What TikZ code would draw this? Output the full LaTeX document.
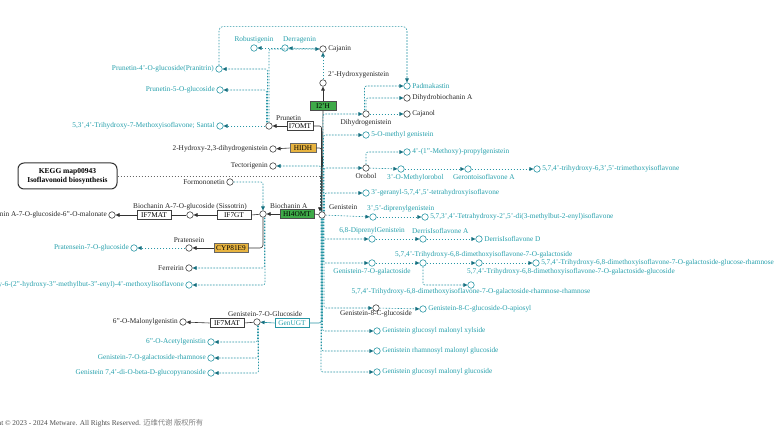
\documentclass[tikz,border=0pt]{standalone}
\usepackage{fontspec}
\setmainfont{Liberation Serif}
\newfontfamily\cjkfont{Noto Sans CJK SC}
\usetikzlibrary{arrows.meta}
\definecolor{tealtxt}{RGB}{38,160,172}
\definecolor{tealline}{RGB}{40,150,165}
\definecolor{tealtip}{RGB}{22,112,128}
\definecolor{enzgreen}{RGB}{62,170,72}
\definecolor{enzorange}{RGB}{232,180,64}

\begin{document}
\begin{tikzpicture}[x=1pt, y=-1pt,
        % Compounds: small open circles
        cmp/.style = {circle, draw=black!75, fill=white, line width=0.6pt,
                      minimum size=6.5pt, inner sep=0pt},
        tcmp/.style = {cmp, draw=tealline},
        % Compound names
        lbl/.style = {font=\fontsize{7.3}{8}\selectfont, text=black!85, inner sep=1.5pt},
        tlbl/.style = {lbl, text=tealtxt},
        % Enzymes: boxes, some coloured
        enz/.style = {rectangle, draw=black!75, fill=white, line width=0.6pt,
                      minimum width=34pt, minimum height=9pt, inner sep=1pt,
                      font=\fontsize{7.3}{8}\selectfont},
        enzs/.style = {enz, minimum width=26pt},
        genz/.style = {fill=enzgreen, draw=black!70},
        oenz/.style = {fill=enzorange, draw=black!60},
        tenz/.style = {draw=tealline, text=tealtxt},
        % Connectors
        rxn/.style = {draw=black!80, line width=0.6pt, -{Triangle[length=4pt, width=3.6pt]}},
        rxnl/.style = {draw=black!80, line width=0.6pt},
        trxn/.style = {draw=tealline, line width=0.6pt, -{Triangle[length=4pt, width=3.6pt, color=tealtip]}},
        tdash/.style = {draw=tealline, line width=0.6pt, dash pattern=on 1.6pt off 1.4pt,
                        rounded corners=2pt, -{Triangle[length=4pt, width=3.6pt, color=tealtip]}},
        mapdash/.style = {draw=black!60, line width=0.6pt, dash pattern=on 1.6pt off 1.4pt,
                          -{Triangle[length=4pt, width=3.6pt, color=black!85]}}
    ]

    \path[fill=white] (0,0) rectangle (782,446);
    \useasboundingbox (0,0) rectangle (782,446);

    % --- Top: 2'-hydroxylation and Prunetin branch ---
    \node[tcmp, label={[tlbl]above:Robustigenin}] (robu) at (254,48) {};
    \node[tcmp, label={[tlbl, anchor=south west, xshift=-3.5pt]north:Derragenin}] (derr) at (285,48) {};
    \node[cmp, label={[lbl]right:Cajanin}] (cajanin) at (323,49) {};
    \node[cmp, label={[lbl, anchor=south west, xshift=3.5pt]north:2'-Hydroxygenistein}] (oh2) at (323,83) {};
    \node[enzs, genz] (i2h) at (323,106) {I2'H};

    \node[tcmp, label={[tlbl]left:{Prunetin-4'-O-glucoside(Pranitrin)}}] (pran) at (219,69) {};
    \node[tcmp, label={[tlbl]left:Prunetin-5-O-glucoside}] (p5g) at (220,90) {};
    \node[tcmp, label={[tlbl]left:{5,3',4'-Trihydroxy-7-Methoxyisoflavone; Santal}}] (santal) at (220,126) {};
    \node[cmp, label={[lbl, anchor=south west, xshift=5.5pt]north:Prunetin}] (prun) at (269,126) {};
    \node[enzs] (i7omt) at (300,126) {I7OMT};

    \node[cmp, label={[lbl]left:{2-Hydroxy-2,3-dihydrogenistein}}] (hydgen) at (273,149) {};
    \node[enzs, oenz] (hidh) at (303,148) {HIDH};
    \node[cmp, label={[lbl]left:Tectorigenin}] (tect) at (273,166) {};

    % --- Map link ---
    \node[draw=black!80, line width=1pt, rounded corners=6pt, minimum width=99pt,
          minimum height=26pt, align=center, font=\bfseries\fontsize{7.5}{9}\selectfont]
          (kegg) at (67.5,176) {KEGG map00943\\Isoflavonoid biosynthesis};

    % --- Biochanin A branch ---
    \node[cmp, label={[lbl]left:Formononetin}] (form) at (230,182) {};
    \node[cmp, label={[lbl]left:{Biochanin A-7-O-glucoside-6''-O-malonate}}] (malon) at (112,215) {};
    \node[enz] (if7mat) at (154,215) {IF7MAT};
    \node[cmp, label={[lbl]above:Biochanin A-7-O-glucoside (Sissotrin)}] (sisso) at (190,215) {};
    \node[enz] (if7gt) at (234,215) {IF7GT};
    \node[cmp, label={[lbl, anchor=south west, xshift=5.5pt]north:Biochanin A}] (bioA) at (263,214) {};
    \node[enz, genz] (hi4omt) at (297,214) {HI4OMT};
    \node[cmp, label={[lbl, anchor=south west, xshift=5.5pt]north:Genistein}] (gen) at (322,215) {};

    \node[tcmp, label={[tlbl]left:Pratensein-7-O-glucoside}] (prat7g) at (134,248) {};
    \node[cmp, label={[lbl]above:Pratensein}] (prat) at (189,248) {};
    \node[enz, oenz] (cyp) at (231,248) {CYP81E9};
    \node[cmp, label={[lbl]left:Ferreirin}] (ferr) at (189,268) {};
    \node[tcmp, label={[tlbl]left:{5,7-dihydroxy-6-(2''-hydroxy-3''-methylbut-3''-enyl)-4'-methoxylisoflavone}}] (methox) at (189,285) {};

    % --- Genistein-7-O-Glucoside branch ---
    \node[cmp, label={[lbl]left:6''-O-Malonylgenistin}] (malgen) at (183,322) {};
    \node[enz] (if7mat2) at (227,323) {IF7MAT};
    \node[cmp, label={[lbl, anchor=south west, xshift=-30.5pt]north:Genistein-7-O-Glucoside}] (g7glc) at (257,322) {};
    \node[enz, tenz] (genugt) at (292,323) {GenUGT};
    \node[tcmp, label={[tlbl]left:6''-O-Acetylgenistin}] (acetyl) at (211,342) {};
    \node[tcmp, label={[tlbl]left:Genistein-7-O-galactoside-rhamnose}] (g7galr) at (211,358) {};
    \node[tcmp, label={[tlbl]left:{Genistein 7,4'-di-O-beta-D-glucopyranoside}}] (glcpyr) at (211,373) {};

    % --- Right: Dihydrogenistein and Orobol ---
    \node[tcmp, label={[tlbl]right:Padmakastin}] (padm) at (407,86) {};
    \node[cmp, label={[lbl]right:Dihydrobiochanin A}] (dhba) at (407,98) {};
    \node[cmp, label={[lbl]right:Cajanol}] (cajanol) at (407,114) {};
    \node[cmp, label={[lbl]below:Dihydrogenistein}] (dhg) at (366,114) {};
    \node[tcmp, label={[tlbl]right:5-O-methyl genistein}] (omg) at (366,135) {};
    \node[tcmp, label={[tlbl]right:4'-(1''-Methoxy)-propylgenistein}] (mprop) at (407,152) {};
    \node[cmp, label={[lbl]below:Orobol}] (orobol) at (366,168) {};
    \node[tcmp, label={[tlbl, anchor=north west, xshift=-15.5pt]south:3'-O-Methylorobol}] (mor) at (401,169) {};
    \node[tcmp, label={[tlbl, anchor=north west, xshift=-16.5pt]south:Gerontoisoflavone A}] (geron) at (468,169) {};
    \node[tcmp, label={[tlbl]right:{5,7,4'-trihydroxy-6,3',5'-trimethoxyisoflavone}}] (trim) at (537,169) {};
    \node[tcmp, label={[tlbl]right:{3'-geranyl-5,7,4',5'-tetrahydroxyisoflavone}}] (geranyl) at (366,193) {};

    % --- Right: Genistein derivatives ---
    \node[tcmp, label={[tlbl, anchor=south west, xshift=-7.5pt]north:{3',5'-diprenylgenistein}}] (dipr) at (373,217) {};
    \node[tcmp, label={[tlbl]right:{5,7,3',4'-Tetrahydroxy-2',5'-di(3-methylbut-2-enyl)isoflavone}}] (tetra) at (425,217) {};
    \node[tcmp, label={[tlbl]above:{6,8-DiprenylGenistein}}] (dipg) at (372,239) {};
    \node[tcmp, label={[tlbl, anchor=south west, xshift=-12.5pt]north:DerrisIsoflavone A}] (derA) at (423,239) {};
    \node[tcmp, label={[tlbl]right:DerrisIsoflavone D}] (derD) at (479,239) {};
    \node[tcmp, label={[tlbl]below:Genistein-7-O-galactoside}] (g7gal) at (372,263) {};
    \node[tcmp, label={[tlbl, anchor=south west, xshift=-29.5pt]north:{5,7,4'-Trihydroxy-6,8-dimethoxyisoflavone-7-O-galactoside}}] (tdg) at (423,263) {};
    \node[tcmp, label={[tlbl, anchor=north west, xshift=-13.5pt]south:{5,7,4'-Trihydroxy-6,8-dimethoxyisoflavone-7-O-galactoside-glucoside}}] (tdgg) at (479,263) {};
    \node[tcmp, label={[tlbl]right:{5,7,4'-Trihydroxy-6,8-dimethoxyisoflavone-7-O-galactoside-glucose-rhamnose}}] (tdggr) at (536,263) {};
    \node[tcmp, label={[tlbl, label distance=-2pt]below:{5,7,4'-Trihydroxy-6,8-dimethoxyisoflavone-7-O-galactoside-rhamnose-rhamnose}}] (tdgrr) at (471,285) {};
    \node[cmp, label={[lbl, label distance=-3pt]below:Genistein-8-C-glucoside}] (g8c) at (376,308) {};
    \node[tcmp, label={[tlbl]right:Genistein-8-C-glucoside-O-apiosyl}] (apio) at (423,309) {};
    \node[tcmp, label={[tlbl]right:Genistein glucosyl malonyl xylside}] (xyl) at (377,331) {};
    \node[tcmp, label={[tlbl]right:Genistein rhamnosyl malonyl glucoside}] (rham) at (377,351) {};
    \node[tcmp, label={[tlbl]right:Genistein glucosyl malonyl glucoside}] (glcglc) at (377,372) {};

    % --- Footer ---
    \node[lbl, text=black!70, anchor=base east] (copy) at (205,425)
          {Copyright \textcopyright{} 2023 - 2024 Metware. All Rights Reserved. {\cjkfont\color{black!50} 迈维代谢 版权所有}};

    % --- Enzyme reactions (solid) ---
    \draw[rxnl] (gen.north) -- (i2h.south);
    \draw[rxn] (i2h.north) -- (oh2.south);
    \draw[rxnl, rounded corners=2pt] ([xshift=-0.5pt]gen.north) |- (i7omt.east);
    \draw[rxn] (i7omt.west) -- (prun);
    \draw[rxnl, rounded corners=2pt] ([xshift=-0.5pt]gen.north) |- (hidh.east);
    \draw[rxn] (hidh.west) -- (hydgen);
    \draw[rxnl] (gen) -- (hi4omt.east);
    \draw[rxn] (hi4omt.west) -- (bioA);
    \draw[rxnl] (bioA) -- (if7gt.east);
    \draw[rxn] (if7gt.west) -- (sisso);
    \draw[rxnl] (sisso) -- (if7mat.east);
    \draw[rxn] (if7mat.west) -- (malon);
    \draw[rxnl, rounded corners=3pt] (bioA.south) |- (cyp.east);
    \draw[rxn] (cyp.west) -- (prat);
    \draw[rxnl, draw=tealline, rounded corners=3pt] (gen.south) |- (genugt.east);
    \draw[trxn] (genugt.west) -- (g7glc);
    \draw[rxnl] (g7glc) -- (if7mat2.east);
    \draw[rxn] (if7mat2.west) -- (malgen);

    % --- Map link ---
    \draw[mapdash] (kegg.east) -| ([xshift=-2pt]gen.north);

    % --- Top branch (dashed) ---
    \draw[tdash] (oh2) -- (cajanin);
    \draw[tdash] (cajanin) -- (derr);
    \draw[tdash] (derr) -- (robu);
    \draw[tdash] (prun) -- (santal);
    \draw[tdash] ([xshift=-2.5pt]prun.north) |- (p5g);
    \draw[tdash] ([xshift=-1.5pt]prun.north) |- (pran);
    \draw[tdash] (prun.north) |- (cajanin);
    \draw[tdash, rounded corners=4pt] (pran.north) -- ++(0,-39) -| (padm.north);

    % --- Up the Genistein bundle ---
    \draw[tdash] ([xshift=-1pt]gen.north) |- (tect);
    \draw[tdash] ([xshift=1pt]gen.north) |- (dhg);
    \draw[tdash] ([xshift=1.5pt]gen.north) |- (omg);
    \draw[tdash] ([xshift=2pt]gen.north) |- (orobol);
    \draw[tdash] ([xshift=2.5pt]gen.north) |- (geranyl);
    \draw[tdash] (dhg) -- (cajanol);
    \draw[tdash] ([xshift=-1.5pt]dhg.north) |- (padm);
    \draw[tdash] (dhg.north) |- (dhba);
    \draw[tdash] (orobol.north) |- (mprop);
    \draw[tdash] (orobol) -- (mor);
    \draw[tdash] (mor) -- (geron);
    \draw[tdash] (geron) -- (trim);

    % --- Down the Genistein bundle ---
    \draw[tdash] (gen) -- (dipr);
    \draw[tdash] (dipr) -- (tetra);
    \draw[tdash] ([xshift=1pt]gen.south) |- (dipg);
    \draw[tdash] (dipg) -- (derA);
    \draw[tdash] (derA) -- (derD);
    \draw[tdash] ([xshift=1.5pt]gen.south) |- (g7gal);
    \draw[tdash] (g7gal) -- (tdg);
    \draw[tdash] (tdg) -- (tdgg);
    \draw[tdash] (tdgg) -- (tdggr);
    \draw[tdash] (tdg.south) |- (tdgrr);
    \draw[tdash] ([xshift=2pt]gen.south) |- (g8c);
    \draw[tdash] (g8c) -- (apio);
    \draw[tdash] ([xshift=0.5pt]gen.south) |- (xyl);
    \draw[tdash] ([xshift=-0.5pt]gen.south) |- (rham);
    \draw[tdash] ([xshift=-1pt]gen.south) |- (glcglc);

    % --- Biochanin A and glucoside side branches ---
    \draw[tdash] (form) -| (bioA.north);
    \draw[tdash] ([xshift=1.5pt]bioA.south) |- (ferr);
    \draw[tdash] ([xshift=2pt]bioA.south) |- (methox);
    \draw[tdash] (prat) -- (prat7g);
    \draw[tdash] ([xshift=0.5pt]g7glc.south) |- (acetyl);
    \draw[tdash] ([xshift=1pt]g7glc.south) |- (g7galr);
    \draw[tdash] ([xshift=1.5pt]g7glc.south) |- (glcpyr);

\end{tikzpicture}
\end{document}
